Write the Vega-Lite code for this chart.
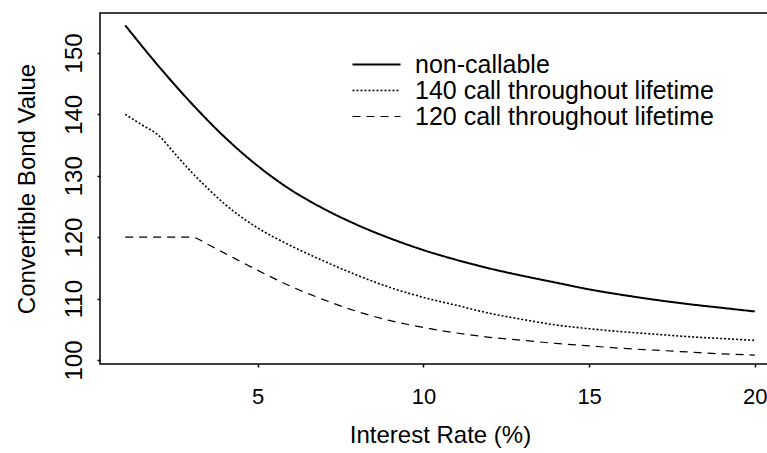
{
  "$schema": "https://vega.github.io/schema/vega-lite/v6.json",
  "autosize": {"type": "none"},
  "padding": {"left": 100, "top": 13, "right": 0, "bottom": 89},
  "width": 680,
  "height": 351,
  "background": "white",
  "config": {
    "font": "Liberation Sans",
    "view": {"stroke": "black", "strokeWidth": 1.5},
    "axis": {"labelFont": "Liberation Sans", "titleFont": "Liberation Sans", "labelColor": "black", "titleColor": "black", "tickColor": "black", "grid": false, "domain": false, "labelFontSize": 24, "titleFontSize": 24, "titleFontWeight": "normal", "tickSize": 3, "tickWidth": 1.5}
  },
  "data": {
    "values": [
      {"rate": 1, "value": 154.5, "series": "non-callable"},
      {"rate": 2, "value": 147.9, "series": "non-callable"},
      {"rate": 3, "value": 141.8, "series": "non-callable"},
      {"rate": 4, "value": 136.3, "series": "non-callable"},
      {"rate": 5, "value": 131.6, "series": "non-callable"},
      {"rate": 6, "value": 127.7, "series": "non-callable"},
      {"rate": 7, "value": 124.6, "series": "non-callable"},
      {"rate": 8, "value": 122.0, "series": "non-callable"},
      {"rate": 9, "value": 119.8, "series": "non-callable"},
      {"rate": 10, "value": 117.9, "series": "non-callable"},
      {"rate": 11, "value": 116.3, "series": "non-callable"},
      {"rate": 12, "value": 114.9, "series": "non-callable"},
      {"rate": 13, "value": 113.7, "series": "non-callable"},
      {"rate": 14, "value": 112.6, "series": "non-callable"},
      {"rate": 15, "value": 111.5, "series": "non-callable"},
      {"rate": 16, "value": 110.6, "series": "non-callable"},
      {"rate": 17, "value": 109.8, "series": "non-callable"},
      {"rate": 18, "value": 109.1, "series": "non-callable"},
      {"rate": 19, "value": 108.5, "series": "non-callable"},
      {"rate": 20, "value": 107.9, "series": "non-callable"},
      {"rate": 1, "value": 140, "series": "140 call throughout lifetime"},
      {"rate": 1.5, "value": 138.3, "series": "140 call throughout lifetime"},
      {"rate": 2, "value": 136.6, "series": "140 call throughout lifetime"},
      {"rate": 2.5, "value": 133.6, "series": "140 call throughout lifetime"},
      {"rate": 3, "value": 130.6, "series": "140 call throughout lifetime"},
      {"rate": 3.5, "value": 127.9, "series": "140 call throughout lifetime"},
      {"rate": 4, "value": 125.4, "series": "140 call throughout lifetime"},
      {"rate": 4.5, "value": 123.3, "series": "140 call throughout lifetime"},
      {"rate": 5, "value": 121.5, "series": "140 call throughout lifetime"},
      {"rate": 6, "value": 118.6, "series": "140 call throughout lifetime"},
      {"rate": 7, "value": 116.1, "series": "140 call throughout lifetime"},
      {"rate": 8, "value": 113.8, "series": "140 call throughout lifetime"},
      {"rate": 9, "value": 111.8, "series": "140 call throughout lifetime"},
      {"rate": 10, "value": 110.2, "series": "140 call throughout lifetime"},
      {"rate": 11, "value": 108.9, "series": "140 call throughout lifetime"},
      {"rate": 12, "value": 107.6, "series": "140 call throughout lifetime"},
      {"rate": 13, "value": 106.6, "series": "140 call throughout lifetime"},
      {"rate": 14, "value": 105.7, "series": "140 call throughout lifetime"},
      {"rate": 15, "value": 105.1, "series": "140 call throughout lifetime"},
      {"rate": 16, "value": 104.6, "series": "140 call throughout lifetime"},
      {"rate": 17, "value": 104.2, "series": "140 call throughout lifetime"},
      {"rate": 18, "value": 103.8, "series": "140 call throughout lifetime"},
      {"rate": 19, "value": 103.5, "series": "140 call throughout lifetime"},
      {"rate": 20, "value": 103.2, "series": "140 call throughout lifetime"},
      {"rate": 1, "value": 120, "series": "120 call throughout lifetime"},
      {"rate": 2, "value": 120, "series": "120 call throughout lifetime"},
      {"rate": 3, "value": 120, "series": "120 call throughout lifetime"},
      {"rate": 3.5, "value": 118.8, "series": "120 call throughout lifetime"},
      {"rate": 4, "value": 117.4, "series": "120 call throughout lifetime"},
      {"rate": 5, "value": 114.6, "series": "120 call throughout lifetime"},
      {"rate": 6, "value": 112.0, "series": "120 call throughout lifetime"},
      {"rate": 7, "value": 109.8, "series": "120 call throughout lifetime"},
      {"rate": 8, "value": 107.9, "series": "120 call throughout lifetime"},
      {"rate": 9, "value": 106.4, "series": "120 call throughout lifetime"},
      {"rate": 10, "value": 105.3, "series": "120 call throughout lifetime"},
      {"rate": 11, "value": 104.4, "series": "120 call throughout lifetime"},
      {"rate": 12, "value": 103.7, "series": "120 call throughout lifetime"},
      {"rate": 13, "value": 103.2, "series": "120 call throughout lifetime"},
      {"rate": 14, "value": 102.7, "series": "120 call throughout lifetime"},
      {"rate": 15, "value": 102.3, "series": "120 call throughout lifetime"},
      {"rate": 16, "value": 101.9, "series": "120 call throughout lifetime"},
      {"rate": 17, "value": 101.6, "series": "120 call throughout lifetime"},
      {"rate": 18, "value": 101.3, "series": "120 call throughout lifetime"},
      {"rate": 19, "value": 101.0, "series": "120 call throughout lifetime"},
      {"rate": 20, "value": 100.8, "series": "120 call throughout lifetime"}
    ]
  },
  "mark": {"type": "line", "interpolate": "monotone", "color": "black"},
  "encoding": {
    "x": {
      "field": "rate", "type": "quantitative",
      "scale": {"domain": [0.24, 20.76], "nice": false, "zero": false},
      "axis": {"title": "Interest Rate (%)", "values": [5, 10, 15, 20], "labelFontSize": 22, "labelPadding": 19, "titlePadding": 16, "labelFlush": false}
    },
    "y": {
      "field": "value", "type": "quantitative",
      "scale": {"domain": [99.35, 156.5], "nice": false, "zero": false},
      "axis": {"title": "Convertible Bond Value", "values": [100, 110, 120, 130, 140, 150], "labelAngle": -90, "labelAlign": "center", "labelBaseline": "alphabetic", "labelPadding": 16, "titlePadding": 23, "labelFlush": false}
    },
    "strokeDash": {
      "field": "series", "type": "nominal",
      "scale": {"domain": ["non-callable", "140 call throughout lifetime", "120 call throughout lifetime"], "range": [[1, 0], [2, 2], [8, 6]]},
      "legend": {
        "title": null, "orient": "none", "legendX": 264, "legendY": 39,
        "symbolType": "M-4,0H4", "symbolSize": 144, "symbolStrokeColor": "black", "symbolStrokeWidth": 1.5,
        "labelFont": "Liberation Sans", "labelFontSize": 25, "labelColor": "black", "labelOffset": 26, "rowPadding": -2, "labelLimit": 500
      }
    },
    "strokeWidth": {
      "field": "series", "type": "nominal",
      "scale": {"domain": ["non-callable", "140 call throughout lifetime", "120 call throughout lifetime"], "range": [2, 1.2, 1.8]},
      "legend": null
    }
  }
}
